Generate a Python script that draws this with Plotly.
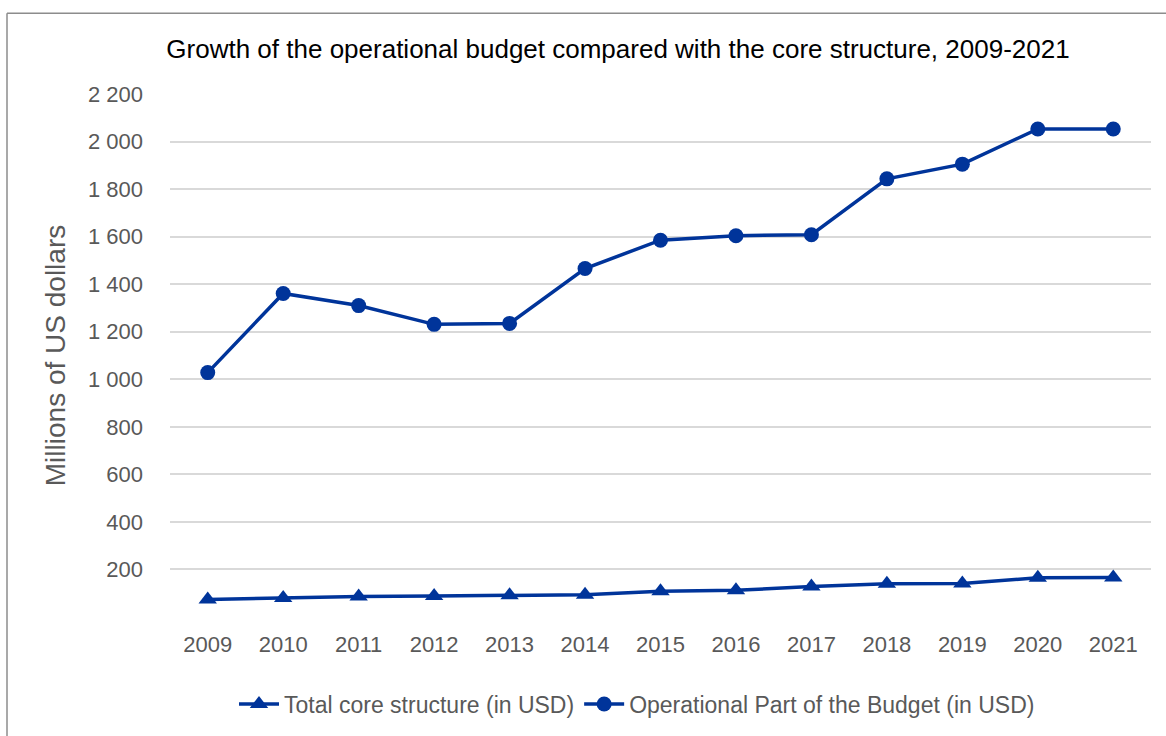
import plotly.graph_objects as go

# Budget figures, millions of US dollars
years = ["2009", "2010", "2011", "2012", "2013", "2014", "2015",
         "2016", "2017", "2018", "2019", "2020", "2021"]
core_structure = [74, 80, 86, 88, 92, 94, 108, 112, 128, 140, 141, 165, 166]
operational_budget = [1028, 1361, 1310, 1231, 1235, 1466, 1585,
                      1604, 1608, 1843, 1905, 2053, 2053]

y_tick_values = [0, 200, 400, 600, 800, 1000, 1200, 1400, 1600, 1800, 2000, 2200]
y_tick_labels = ["", "200", "400", "600", "800", "1 000", "1 200", "1 400",
                 "1 600", "1 800", "2 000", "2 200"]

BLUE = "#00349A"
GREY_TEXT = "#595959"
FONT = "Liberation Sans, Arial, sans-serif"

fig = go.Figure()
fig.add_trace(go.Scatter(
    x=years, y=core_structure, mode="lines+markers",
    name="Total core structure (in USD)",
    line=dict(color=BLUE, width=3.5),
    marker=dict(symbol="triangle-up", size=16, color=BLUE),
))
fig.add_trace(go.Scatter(
    x=years, y=operational_budget, mode="lines+markers",
    name="Operational Part of the Budget (in USD)",
    line=dict(color=BLUE, width=3.5),
    marker=dict(symbol="circle", size=15, color=BLUE),
))

W, H = 1166, 736
L, R, T, B = 170, 15, 94, 118
pw, ph = W - L - R, H - T - B

# outer chart frame (left and top edges visible)
fx0 = (7 - L) / pw
fy1 = 1 + (T - 13) / ph
fig.add_shape(type="line", xref="paper", yref="paper",
              x0=fx0, x1=fx0, y0=fy1, y1=-0.5,
              line=dict(color="#8C8C8C", width=1.5))
fig.add_shape(type="line", xref="paper", yref="paper",
              x0=fx0, x1=1.2, y0=fy1, y1=fy1,
              line=dict(color="#8C8C8C", width=1.5))

fig.update_layout(
    width=W, height=H,
    margin=dict(l=L, r=R, t=T, b=B),
    paper_bgcolor="white", plot_bgcolor="white",
    font=dict(family=FONT, color=GREY_TEXT, size=22),
    title=dict(
        text="Growth of the operational budget compared with the core structure, 2009-2021",
        x=618 / W, xanchor="center", xref="container",
        y=1 - 49 / H, yanchor="middle", yref="container",
        font=dict(family=FONT, size=26, color="black"),
    ),
    xaxis=dict(
        type="category", range=[-0.5, 12.5],
        showgrid=False, zeroline=False, showline=False,
        ticks="", ticklabelstandoff=12,
        tickfont=dict(size=22, color=GREY_TEXT),
    ),
    yaxis=dict(
        range=[0, 2200], tickvals=y_tick_values, ticktext=y_tick_labels,
        showgrid=True, gridcolor="#D9D9D9", gridwidth=1.5,
        zeroline=False, showline=False, ticks="",
        ticklabelstandoff=26,
        tickfont=dict(size=22, color=GREY_TEXT),
        title=dict(text="Millions of US dollars", standoff=14,
                   font=dict(size=28, color=GREY_TEXT)),
    ),
    showlegend=True,
    legend=dict(
        orientation="h", x=(637 - L) / pw, xanchor="center",
        y=-(704 - (H - B)) / ph, yanchor="middle",
        font=dict(size=23, color=GREY_TEXT),
        itemwidth=40, bgcolor="rgba(0,0,0,0)",
    ),
)

fig.write_html("out.html")
